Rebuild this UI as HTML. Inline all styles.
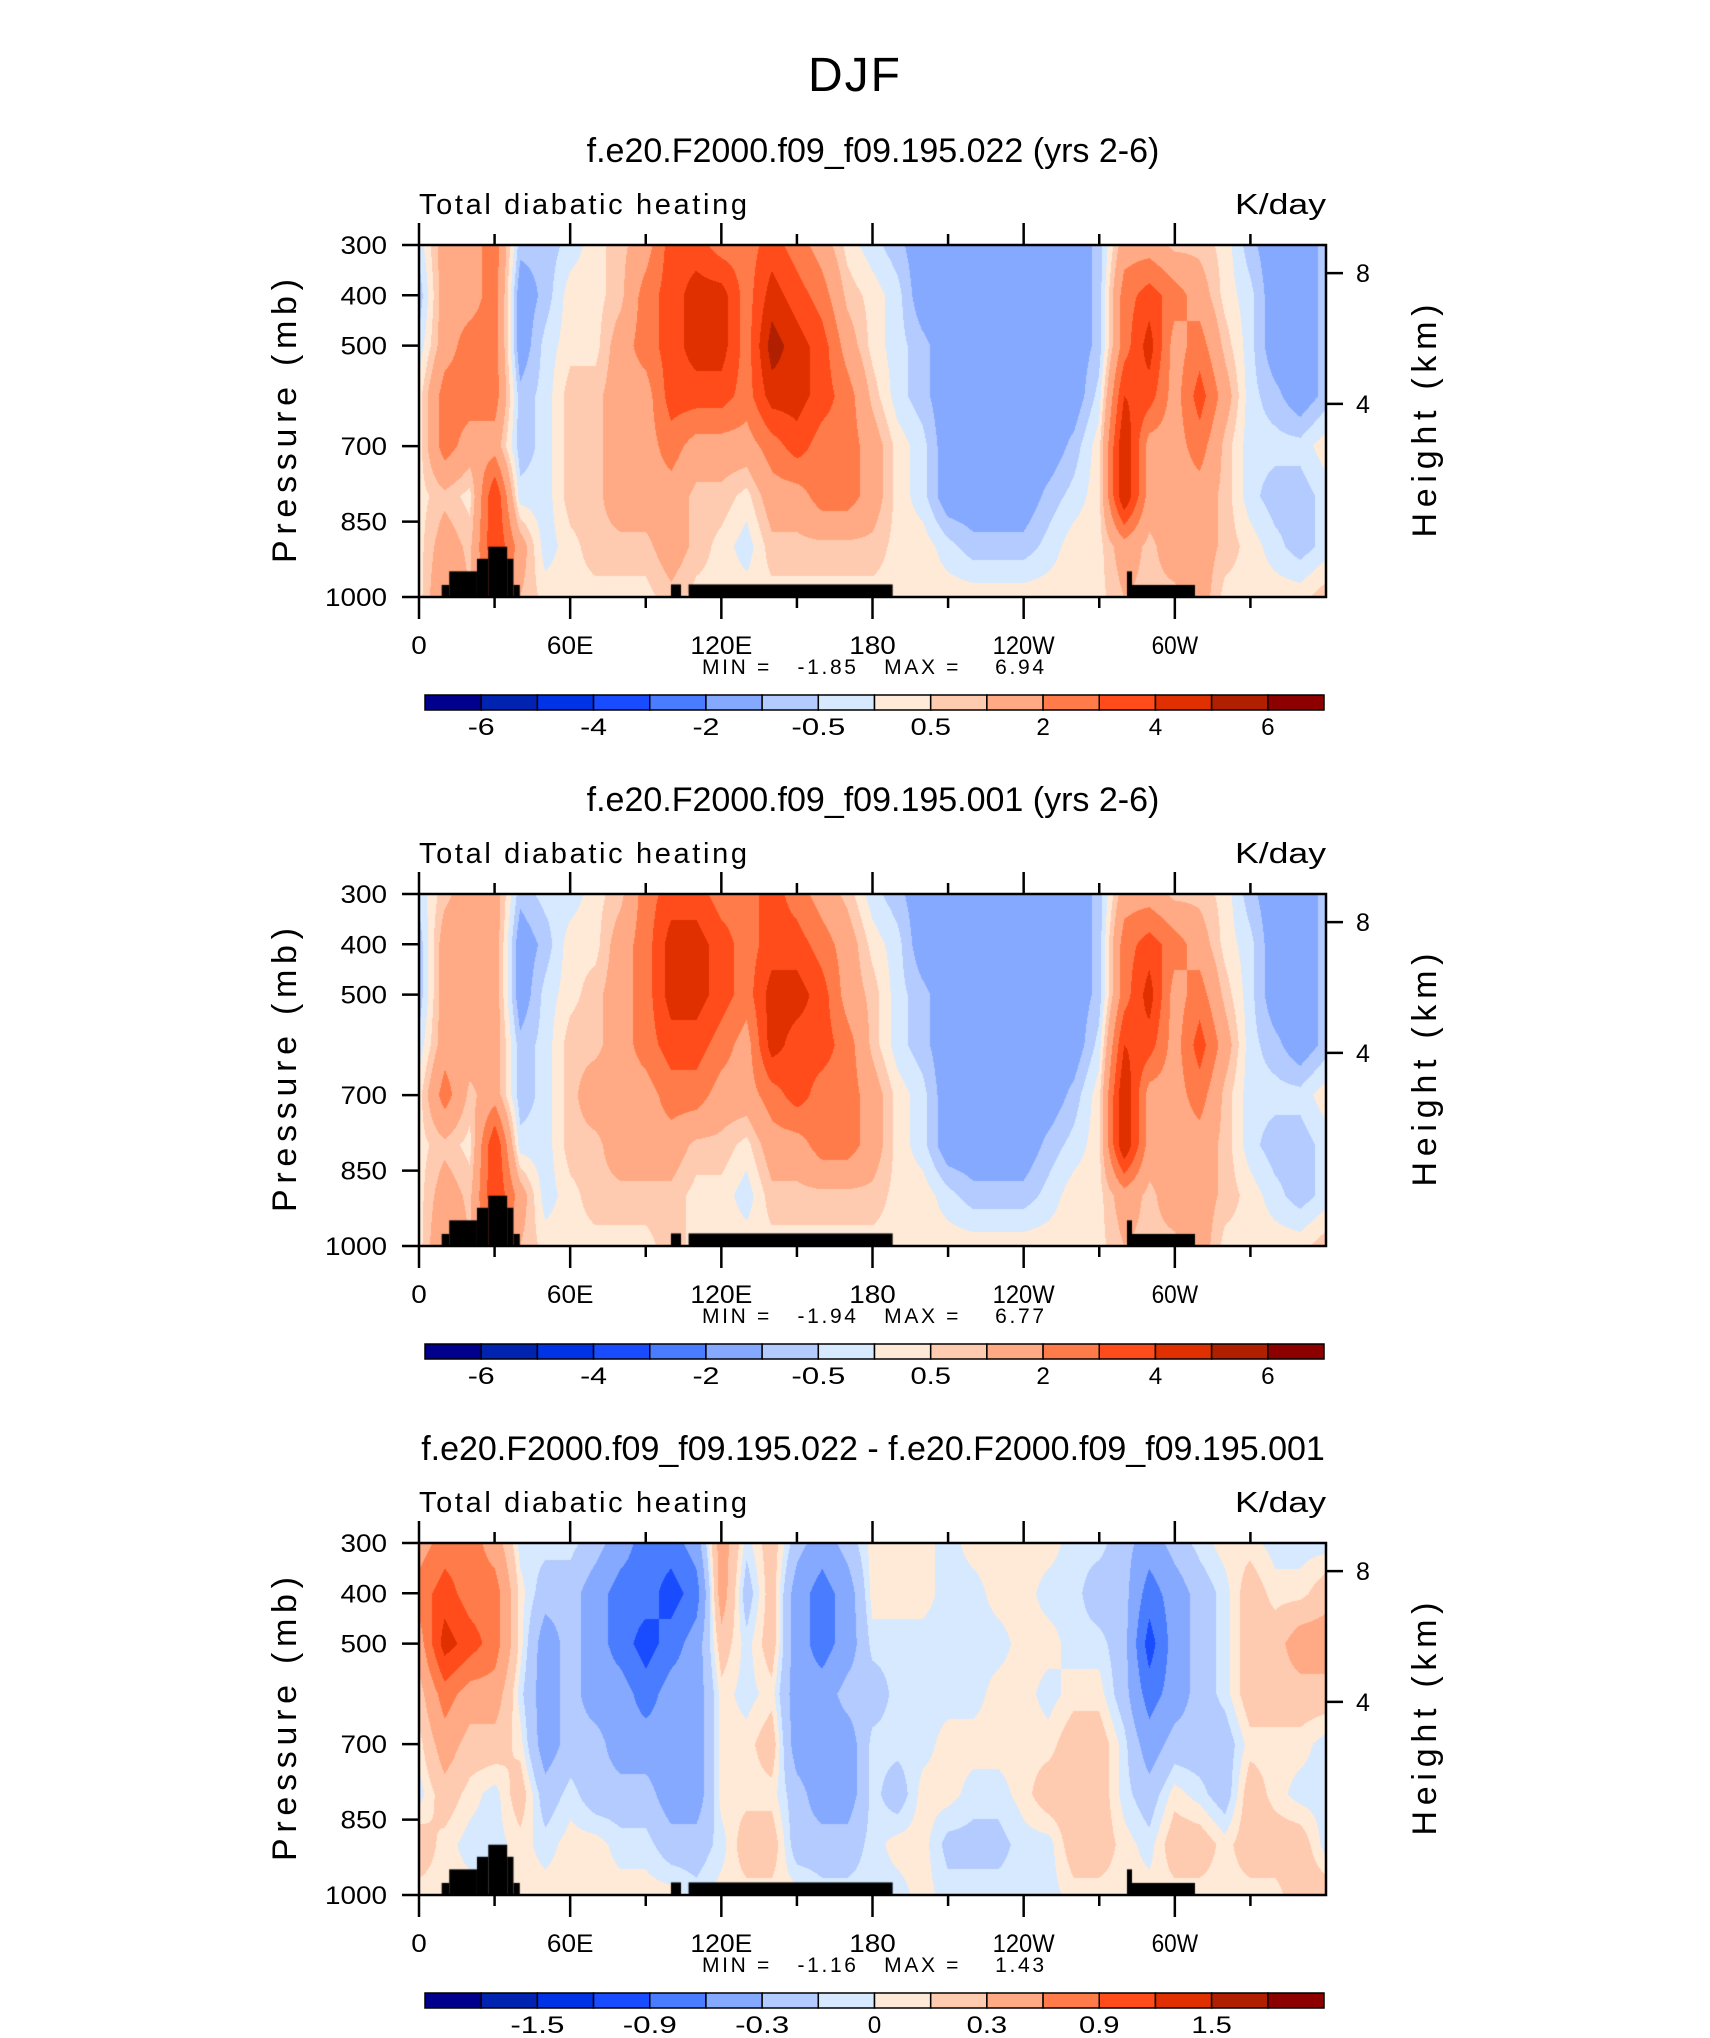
<!DOCTYPE html>
<html><head><meta charset="utf-8">
<style>
body{margin:0;background:#fff;width:1710px;height:2038px;position:relative;overflow:hidden;font-family:"Liberation Sans",sans-serif;color:#000}
.t{position:absolute;white-space:pre}
canvas{position:absolute}
svg{position:absolute;left:0;top:0}
</style></head>
<body>
<div class="t" style="left:0;width:1710px;text-align:center;top:48px;font-size:48px;font-weight:300;letter-spacing:2px">DJF</div>
<svg id="axes" width="1710" height="2038"></svg>
<script>
const lons=[0,10,20,30,40,50,60,70,80,90,100,110,120,130,140,150,160,170,180,190,200,210,220,230,240,250,260,270,280,290,300,310,320,330,340,350,360];
const levels=[300,400,500,600,700,800,900,1000];
const field1=[
[-0.3,-0.8,-0.3,0.3,0.3,0.3,0.3,0.3],[1.5,1.5,1.5,2.5,2.5,0.8,1.5,2],[1.5,1.5,2.5,2.5,1.5,0.3,0.8,1],[2.5,2.5,2.5,2.5,1.5,4,4,3],
[-0.8,-1.5,-1.5,-0.8,-0.8,-0.3,1.5,1],[-0.8,-0.8,-0.3,-0.3,-0.3,-0.3,-0.3,0.3],[-0.3,0.3,0.3,0.8,0.8,0.8,0.3,0.3],[0.3,0.3,0.3,0.8,0.8,0.8,0.8,0.3],
[0.8,0.8,1.5,1.5,1.5,1.5,0.8,0.3],[1.5,2.5,2.5,1.5,1.5,1.5,0.8,0.3],[3.5,3.5,3.5,3.5,2.5,1.5,1.5,0.8],[3.5,4.5,4.5,3.5,1.5,0.8,0.8,0.3],
[2.5,4.5,4.5,3.5,1.5,0.8,0.3,0.3],[2.5,2.5,2.5,2.5,1.5,0.3,-0.3,0.3],[3.5,4.5,5.5,4.5,2.5,1.5,0.8,0.3],[2.5,3.5,4.5,4.5,3.5,1.5,0.8,0.3],
[1.5,2.5,3.5,3.5,2.5,2.5,0.8,0.3],[0.3,0.8,1.5,2.5,2.5,2.5,0.8,0.3],[-0.3,0.3,0.3,0.8,1.5,1.5,0.8,0.3],[-0.8,-0.3,-0.3,-0.3,0.3,0.3,0.3,0.3],
[-1.5,-1.5,-0.8,-0.8,-0.3,-0.3,0.3,0.3],[-1.5,-1.5,-1.5,-1.5,-1.5,-1.5,-0.3,0.3],[-1.5,-1.5,-1.5,-1.5,-1.5,-1.5,-0.8,0.3],[-1.5,-1.5,-1.5,-1.5,-1.5,-1.5,-0.8,0.3],
[-1.5,-1.5,-1.5,-1.5,-1.5,-1.5,-0.8,0.3],[-1.5,-1.5,-1.5,-1.5,-1.5,-0.8,-0.3,0.3],[-1.5,-1.5,-1.5,-1.5,-0.8,-0.3,0.3,0.3],[-0.8,-0.8,-0.8,-0.3,0.3,0.3,0.3,0.3],
[1.5,2.5,2.5,4,5,5,1.5,1],[1.5,3.5,4.5,3.5,1.5,1.5,0.8,0.8],[0.8,2.5,1.5,1.5,1.5,1.5,1.5,0.8],[0.8,1.5,2.5,3.5,2.5,1.5,1.5,1.5],
[0.3,0.3,0.8,1.5,0.8,0.8,0.8,0.3],[-0.8,-0.3,-0.3,-0.3,-0.3,-0.3,0.3,0.3],[-1.5,-1.5,-1.5,-0.8,-0.3,-0.8,-0.3,0.3],[-1.5,-1.5,-1.5,-1.5,-0.3,-0.8,-0.8,0.3],
[-0.8,-0.8,-0.8,-0.8,0.3,-0.3,-0.3,0.8]];
const field2=[
[-0.3,-0.8,-0.8,-0.3,0.3,0.3,0.3,0.3],[0.8,1.5,1.5,1.5,2.5,0.8,1.5,2],[1.5,1.5,1.5,1.5,0.8,0.3,0.8,1],[1.5,1.5,1.5,1.5,1.5,4,4,3],
[-0.8,-1.5,-1.5,-0.8,-0.8,-0.3,1.5,1],[-0.3,-0.8,-0.3,-0.3,-0.3,-0.3,-0.3,0.3],[-0.3,0.3,0.3,0.8,0.8,0.8,0.3,0.3],[0.3,0.3,0.8,0.8,1.5,0.8,0.8,0.3],
[0.8,1.5,1.5,1.5,1.5,1.5,0.8,0.3],[2.5,2.5,2.5,2.5,1.5,1.5,0.8,0.3],[3.5,4.5,4.5,3.5,2.5,1.5,0.8,0.8],[3.5,4.5,4.5,3.5,2.5,0.8,0.3,0.3],
[2.5,3.5,3.5,2.5,1.5,0.8,0.3,0.3],[2.5,2.5,2.5,1.5,1.5,0.3,-0.3,0.3],[3.5,3.5,4.5,4.5,2.5,1.5,0.8,0.3],[2.5,3.5,4.5,3.5,3.5,1.5,0.8,0.3],
[1.5,2.5,3.5,3.5,2.5,2.5,0.8,0.3],[0.8,1.5,1.5,2.5,2.5,2.5,0.8,0.3],[-0.3,0.3,0.8,0.8,1.5,1.5,0.8,0.3],[-0.8,-0.3,-0.3,-0.3,0.3,0.3,0.3,0.3],
[-1.5,-1.5,-0.8,-0.8,-0.3,-0.3,0.3,0.3],[-1.5,-1.5,-1.5,-1.5,-1.5,-1.5,-0.3,0.3],[-1.5,-1.5,-1.5,-1.5,-1.5,-1.5,-0.8,0.3],[-1.5,-1.5,-1.5,-1.5,-1.5,-1.5,-0.8,0.3],
[-1.5,-1.5,-1.5,-1.5,-1.5,-1.5,-0.8,0.3],[-1.5,-1.5,-1.5,-1.5,-1.5,-0.8,-0.3,0.3],[-1.5,-1.5,-1.5,-1.5,-0.8,-0.3,0.3,0.3],[-0.8,-0.8,-0.8,-0.3,0.3,0.3,0.3,0.3],
[1.5,2.5,2.5,4,5,5,1.5,1],[1.5,3.5,4.5,3.5,1.5,1.5,0.8,0.8],[0.8,2.5,1.5,1.5,1.5,1.5,1.5,0.8],[0.8,1.5,2.5,3.5,2.5,1.5,1.5,1.5],
[0.3,0.3,0.8,1.5,0.8,0.8,0.8,0.3],[-0.8,-0.3,-0.3,-0.3,-0.3,-0.3,0.3,0.3],[-1.5,-1.5,-1.5,-0.8,-0.3,-0.8,-0.3,0.3],[-1.5,-1.5,-1.5,-1.5,-0.3,-0.8,-0.8,0.3],
[-0.8,-0.8,-0.8,-0.8,0.3,-0.3,-0.3,0.8]];
const field3=[
[0.45,0.75,0.45,0.2,0.05,-0.05,0.2,0.05],[0.75,1.05,1.35,0.75,0.45,0.2,0.05,0.05],[0.75,0.75,1.05,0.45,0.2,0.05,-0.05,0.05],[0.45,0.75,0.75,0.45,0.2,-0.05,-0.05,0.05],
[-0.05,0.05,0.05,-0.05,0.05,0.2,0.05,0.05],[-0.05,-0.2,-0.45,-0.45,-0.45,-0.2,-0.05,0.05],[-0.05,-0.2,-0.2,-0.2,-0.2,-0.05,0.05,0.05],[-0.2,-0.45,-0.45,-0.45,-0.2,-0.2,0.05,0.05],
[-0.45,-0.75,-0.75,-0.45,-0.45,-0.2,-0.05,0.05],[-0.75,-0.75,-1.05,-0.75,-0.45,-0.2,-0.05,0.05],[-0.75,-1.05,-0.75,-0.45,-0.45,-0.45,-0.2,0.05],[-0.45,-0.75,-0.45,-0.45,-0.45,-0.45,-0.2,-0.05],
[0.45,0.45,0.2,0.05,0.05,0.05,-0.05,0.05],[-0.05,-0.2,-0.05,-0.05,0.05,0.05,0.2,0.05],[0.2,0.2,0.2,0.05,0.2,0.05,0.2,0.05],[-0.2,-0.45,-0.45,-0.45,-0.45,-0.2,-0.2,0.05],
[-0.45,-0.75,-0.75,-0.45,-0.45,-0.45,-0.2,-0.05],[-0.2,-0.45,-0.45,-0.2,-0.45,-0.45,-0.2,-0.05],[0.05,0.05,-0.05,-0.2,-0.05,-0.05,-0.05,-0.05],[0.05,0.05,-0.05,-0.05,-0.05,-0.2,0.05,-0.05],
[0.05,0.05,-0.05,-0.05,-0.05,0.05,0.05,0.05],[-0.05,-0.05,-0.05,-0.05,0.05,0.05,-0.15,-0.05],[0.05,-0.05,-0.05,-0.05,0.05,-0.05,-0.15,-0.05],[0.05,0.05,-0.05,0.05,0.05,-0.05,-0.15,-0.05],
[0.05,0.05,0.05,0.05,0.05,0.05,-0.05,-0.05],[0.05,-0.05,0.05,-0.05,0.05,0.2,-0.05,-0.05],[-0.05,-0.05,-0.05,0.05,0.2,0.2,0.2,0.05],[-0.05,-0.2,-0.05,0.05,0.2,0.2,0.2,0.05],
[-0.2,-0.2,-0.2,-0.2,-0.05,-0.05,0.05,0.05],[-0.45,-0.75,-1.05,-0.75,-0.45,-0.2,-0.05,0.05],[-0.2,-0.45,-0.45,-0.45,-0.2,0.05,0.2,0.05],[-0.05,-0.2,-0.2,-0.2,-0.2,-0.05,0.2,0.05],
[0.05,-0.05,-0.05,-0.05,-0.2,-0.2,0.05,0.05],[0.05,0.2,0.2,0.2,0.05,0.2,0.2,0.05],[-0.05,0.05,0.2,0.2,0.05,0.05,0.2,0.05],[-0.05,0.05,0.45,0.2,0.05,-0.05,0.2,0.2],
[-0.05,0.2,0.45,0.2,-0.05,-0.05,-0.05,0.2]];
const bounds12=[-6,-5,-4,-3,-2,-1,-0.5,0,0.5,1,2,3,4,5,6];
const bounds3=[-1.8,-1.5,-1.2,-0.9,-0.6,-0.3,-0.1,0,0.1,0.3,0.6,0.9,1.2,1.5,1.8];
const cbLabels12=["","-6","","-4","","-2","","-0.5","","0.5","","2","","4","","6",""];
const cbLabels3=["","","-1.5","","-0.9","","-0.3","","0","","0.3","","0.9","","1.5","",""];
const terrainStart=[9,12,23,27.5,35,37.5,100,107,281,283];
const terrainEnd=[12,23,27.5,35,37.5,40,104,188,283,308];
const terrainTop=[976,949,924,900,924,976,975,975,949,976];
const titles=["f.e20.F2000.f09_f09.195.022 (yrs 2-6)","f.e20.F2000.f09_f09.195.001 (yrs 2-6)","f.e20.F2000.f09_f09.195.022 - f.e20.F2000.f09_f09.195.001"];
const minVals=["-1.85","-1.94","-1.16"];
const maxVals=["6.94","6.77","1.43"];
const pTicks=[300,400,500,700,850,1000];
const zTicks=[8,4];
const zTickP=[356,616];
const xTickLon=[0,60,120,180,240,300];
const xTickLbl=["0","60E","120E","180","120W","60W"];
const colors=["#00008c","#0023b0","#0032e6","#1a4cff","#4a7cff","#85a9ff","#b3cbff","#d6e9ff","#ffead7","#ffcbb0","#ffaa85","#ff7c4a","#ff4c1a","#e03000","#b02000","#8c0000"];

const L=419,W=907,H=352,TOP0=245,DY=649;
const sx=lon=>L+lon/360*W;
const sy=(p,top)=>top+(p-300)/700*H;
const NS="http://www.w3.org/2000/svg";
const svg=document.getElementById('axes');
function mk(tag,attrs,txt){const e=document.createElementNS(NS,tag);for(const k in attrs)e.setAttribute(k,attrs[k]);if(txt!==undefined)e.textContent=txt;svg.appendChild(e);return e;}
function hex(c){return [parseInt(c.slice(1,3),16),parseInt(c.slice(3,5),16),parseInt(c.slice(5,7),16)];}
const rgb=colors.map(hex);
function val(field,lon,p){
  let j=Math.min(Math.floor(lon/10),35),u=(lon-lons[j])/10;
  let i=0;while(i<levels.length-2&&p>levels[i+1])i++;
  let t=(p-levels[i])/(levels[i+1]-levels[i]);
  const a=field[j][i],b=field[j+1][i],c=field[j][i+1],d=field[j+1][i+1];
  return (a*(1-u)+b*u)*(1-t)+(c*(1-u)+d*u)*t;
}
function fitText(e,chars){e.setAttribute('textLength',chars*15.5);e.setAttribute('lengthAdjust','spacingAndGlyphs');}
function panel(k,field,bounds,cbl){
  const top=TOP0+k*DY;
  const cv=document.createElement('canvas');cv.width=W;cv.height=H;cv.style.left=L+'px';cv.style.top=top+'px';
  
  
  document.body.insertBefore(cv,svg);
  const ctx=cv.getContext('2d');const img=ctx.createImageData(W,H);
  for(let y=0;y<H;y++){const p=300+y/(H-1)*700;for(let x=0;x<W;x++){const v=val(field,x/(W-1)*360,p);let b=0;while(b<bounds.length&&v>=bounds[b])b++;const c=rgb[b];const o=(y*W+x)*4;img.data[o]=c[0];img.data[o+1]=c[1];img.data[o+2]=c[2];img.data[o+3]=255;}}
  ctx.putImageData(img,0,0);
  ctx.fillStyle='#000';
  for(let n=0;n<terrainStart.length;n++){const x0=terrainStart[n]/360*W,x1=terrainEnd[n]/360*W,y0=(terrainTop[n]-300)/700*H;ctx.fillRect(x0,y0,x1-x0,H-y0);}
  const fr=mk('rect',{x:L,y:top,width:W,height:H,fill:'none',stroke:'#000','stroke-width':2.5});
  
  
  for(let lon=0;lon<=330;lon+=30){const maj=lon%60===0,len=maj?22:11,x=sx(lon);
    const t1=mk('line',{x1:x,x2:x,y1:top,y2:top-len,stroke:'#000','stroke-width':2.5});
    
    
    const t2=mk('line',{x1:x,x2:x,y1:top+H,y2:top+H+len,stroke:'#000','stroke-width':2.5});
    
    }
  xTickLon.forEach((lon,n)=>{const e=mk('text',{x:sx(lon),y:top+H+57,'text-anchor':'middle','font-size':25,'font-family':'Liberation Sans'},xTickLbl[n]);
    fitText(e,xTickLbl[n].length);
    
    });
  pTicks.forEach(p=>{const y=sy(p,top);
    const t=mk('line',{x1:L,x2:L-17,y1:y,y2:y,stroke:'#000','stroke-width':2.5});
    
    
    const e=mk('text',{x:L-32,y:y+9,'text-anchor':'end','font-size':25,'font-family':'Liberation Sans'},String(p));
    fitText(e,String(p).length);
    
    });
  zTicks.forEach((z,n)=>{const y=sy(zTickP[n],top);
    const t=mk('line',{x1:L+W,x2:L+W+17,y1:y,y2:y,stroke:'#000','stroke-width':2.5});
    
    
    const e=mk('text',{x:L+W+30,y:y+9,'font-size':25,'font-family':'Liberation Sans'},String(z));
    
    });
  const tl=mk('text',{x:873,y:top-83,'text-anchor':'middle','font-size':34,'font-family':'Liberation Sans'},titles[k]);
  
  
  const lt=mk('text',{x:L,y:top-31,'font-size':29,'font-family':'Liberation Sans',textLength:328,lengthAdjust:'spacing'},'Total diabatic heating');
  
  
  const un=mk('text',{x:L+W-91,y:top-31,'font-size':29,'font-family':'Liberation Sans',textLength:91,lengthAdjust:'spacingAndGlyphs'},'K/day');
  
  
  const yl=mk('text',{x:0,y:0,'text-anchor':'middle','font-size':34,'font-family':'Liberation Sans',textLength:284,lengthAdjust:'spacing',transform:`translate(296,${top+176}) rotate(-90)`},'Pressure (mb)');
  
  
  const hl=mk('text',{x:0,y:0,'text-anchor':'middle','font-size':34,'font-family':'Liberation Sans',textLength:233,lengthAdjust:'spacing',transform:`translate(${L+W+110},${top+176}) rotate(-90)`},'Height (km)');
  
  
  const mm=mk('text',{x:702,y:top+H+77,'font-size':21,'font-family':'Liberation Sans',textLength:342,lengthAdjust:'spacing'},'MIN =   '+minVals[k]+'   MAX =    '+maxVals[k]);
  mm.style.whiteSpace='pre';
  
  
  const cbT=top+450,cbL=425,cbW=899,bw=cbW/16;
  colors.forEach((c,n)=>{const r=mk('rect',{x:cbL+n*bw,y:cbT,width:bw,height:15,fill:c,stroke:'#000','stroke-width':1.5});
    
    });
  cbl.forEach((s,n)=>{if(!s)return;const e=mk('text',{x:cbL+n*bw,y:cbT+40,'text-anchor':'middle','font-size':24,'font-family':'Liberation Sans'},s);
    e.setAttribute('textLength',s.length*13.5);e.setAttribute('lengthAdjust','spacingAndGlyphs');
    
    });
}
panel(0,field1,bounds12,cbLabels12);
panel(1,field2,bounds12,cbLabels12);
panel(2,field3,bounds3,cbLabels3);
</script>
</body></html>
